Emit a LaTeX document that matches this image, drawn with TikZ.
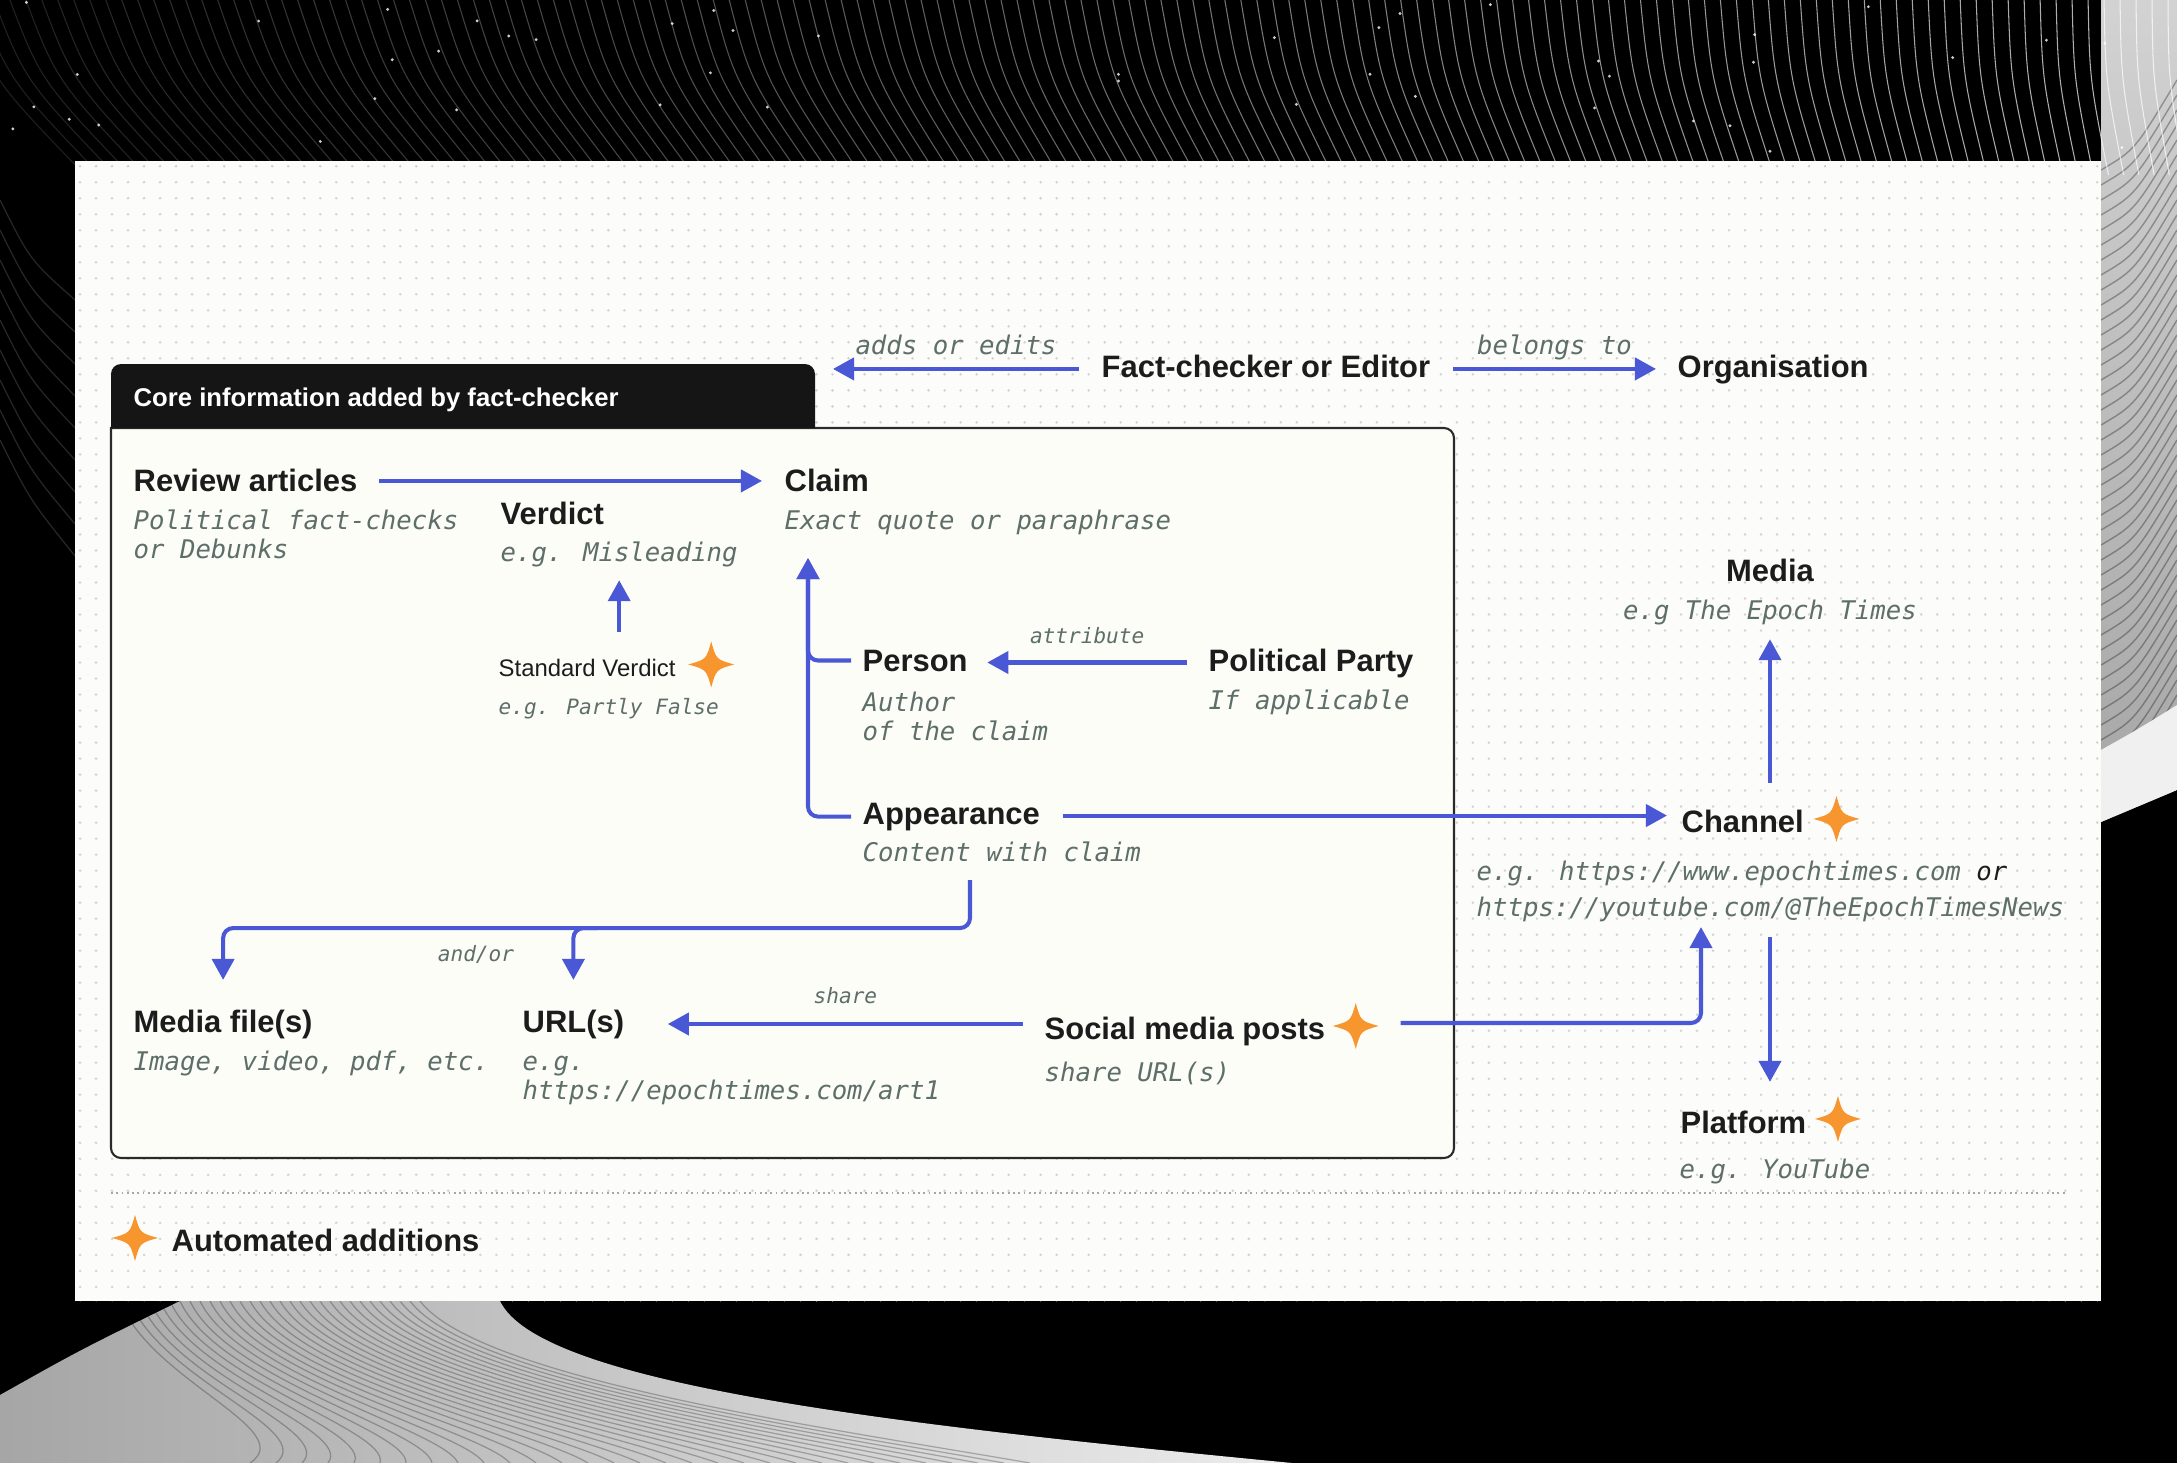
\documentclass[tikz,border=0pt]{standalone}
\usepackage{fontspec}
\setmainfont{Liberation Sans}
\newfontfamily\codefont{DejaVu Sans Mono}[ItalicFont={DejaVu Sans Mono Oblique}]
\usetikzlibrary{arrows.meta,positioning,calc,patterns.meta}
\definecolor{ink}{HTML}{1C1C1C}
\definecolor{mono}{HTML}{5E6E69}
\definecolor{linkblue}{HTML}{4B58D6}
\definecolor{sparkorange}{HTML}{F7952F}
\definecolor{cardfill}{HTML}{FCFCFA}
\definecolor{boxfill}{HTML}{FDFDF8}
\definecolor{boxline}{HTML}{2A2A2A}
\definecolor{headfill}{HTML}{151515}
\definecolor{dotgrey}{HTML}{D2D3D0}
\tikzset{
  head/.style={font=\bfseries\fontsize{8.8pt}{10.5pt}\selectfont, text=ink,
    inner sep=0pt, anchor=base west},
  smallhead/.style={head, font=\fontsize{6.8pt}{8pt}\selectfont},
  desc/.style={font=\codefont\itshape\fontsize{7.3pt}{8.2pt}\selectfont, text=mono,
    inner sep=0pt, anchor=base west, align=left},
  smalldesc/.style={desc, font=\codefont\itshape\fontsize{6pt}{7pt}\selectfont},
  lbl/.style={font=\codefont\itshape\fontsize{6pt}{7pt}\selectfont, text=mono,
    inner sep=0pt, text depth=0pt},
  biglbl/.style={lbl, font=\codefont\itshape\fontsize{7.3pt}{8.2pt}\selectfont},
  link/.style={draw=linkblue, line width=1.15pt, rounded corners=0.1cm,
    -{Triangle[length=0.21cm,width=0.22cm]}},
  corebox/.style={fill=boxfill, draw=boxline, line width=0.6pt},
  spark/.pic={\fill[sparkorange] (0,-23) .. controls (5,-5) .. (23,0)
    .. controls (5,5) .. (0,23) .. controls (-5,5) .. (-23,0)
    .. controls (-5,-5) .. cycle;},
}
% multi-line descriptions are anchored on their last line

\begin{document}
\begin{tikzpicture}[x=0.01cm, y=-0.01cm]
\useasboundingbox (0,0) rectangle (2177,1463);

% ===== backdrop =====
\fill[black] (0,0) rectangle (2177,1463);
\shade[top color=gray!35, bottom color=gray!70]
  (2101,0) -- (2177,0) -- (2177,790) -- (2101,822) -- cycle;
\begin{scope}
  \clip (2101,0) -- (2177,0) -- (2177,790) -- (2101,822) -- cycle;
  \foreach \k in {0,...,44}
    { \draw[black, opacity=0.3, line width=0.4pt]
        (2101,170+\k*15) .. controls (2135,150+\k*15) .. (2177,80+\k*15); }
  \fill[gray!12] (2101,750) .. controls (2140,728) .. (2177,705) -- (2177,790) -- (2101,822) -- cycle;
\end{scope}
\foreach \i in {0,...,140} {
  \pgfmathsetmacro{\sx}{\i*16-40}
  \pgfmathsetmacro{\op}{0.12+0.6*\i/140}
  \pgfmathsetmacro{\lean}{110*(1-\i/140)}
  \draw[white, opacity=\op, line width=0.3pt]
    (\sx,-5) .. controls (\sx+0.3*\lean,80) .. (\sx+\lean+15,175);
}
\pgfmathsetseed{11}
\foreach \k in {1,...,45}
  { \fill[white, opacity=0.8] ({rnd*2177},{rnd*155}) circle (1.6); }
\foreach \k in {0,...,8}
  { \draw[white, opacity=0.15, line width=0.35pt] (0,200+\k*30) .. controls (30,260+\k*30) .. (75,300+\k*32); }
\shade[left color=gray!70, right color=gray!15]
  (180,1301) -- (500,1301) .. controls (540,1385) and (900,1425) .. (1292,1463)
  -- (0,1463) -- (0,1395) .. controls (80,1350) .. (180,1301) -- cycle;
\begin{scope}
  \clip (180,1301) -- (500,1301) .. controls (540,1385) and (900,1425) .. (1292,1463)
    -- (0,1463) -- (0,1395) .. controls (80,1350) .. (180,1301) -- cycle;
  \foreach \k in {0,...,30}
    { \draw[black, opacity=0.25, line width=0.35pt]
        (120+\k*10,1301) .. controls (150+\k*11,1380) and (300+\k*18,1430) .. (250+\k*26,1463); }
\end{scope}

% ===== card =====
\fill[cardfill] (75,161) rectangle (2101,1301);
\fill[pattern={Dots[distance=0.16cm, radius=0.4pt]}, pattern color=dotgrey]
  (75,161) rectangle (2101,1301);

% ===== core box =====
\filldraw[corebox] (111,428) [rounded corners=0.1cm] -- (1454,428) -- (1454,1158)
  -- (111,1158) [sharp corners] -- cycle;
\fill[headfill] (111,428) [rounded corners=0.1cm] -- (111,364) -- (815,364)
  [sharp corners] -- (815,428) -- cycle;
\node[head, text=white, font=\bfseries\fontsize{7.3pt}{9pt}\selectfont] (core) at (133,406)
  {Core information added by fact-checker};

% ===== nodes =====
\node[head] (editor) at (1101,377) {Fact-checker or Editor};
\node[head] (org) at (1677,377) {Organisation};

\node[head] (review) at (133,491) {Review articles};
\node[desc] (reviewdesc) at (133,558) {Political fact-checks\\or Debunks};
\node[head] (claim) at (784,491) {Claim};
\node[desc] (claimdesc) at (784,529) {Exact quote or paraphrase};
\node[head] (verdict) at (500,524) {Verdict};
\node[desc] (verdictdesc) at (500,561) {e.g. Misleading};
\node[smallhead] (stdverdict) at (498,676) {Standard Verdict};
\node[smalldesc] (stdverdictdesc) at (498,714) {e.g. Partly False};

\node[head] (person) at (862,671) {Person};
\node[desc] (persondesc) at (862,740) {Author\\of the claim};
\node[head] (party) at (1208,671) {Political Party};
\node[desc] (partydesc) at (1208,709) {If applicable};
\node[head] (appear) at (862,824) {Appearance};
\node[desc] (appeardesc) at (862,861) {Content with claim};

\node[head] (channel) at (1681,832) {Channel};
\node[desc] (channeldesc) at (1476,916)
  {e.g. https://www.epochtimes.com {\color{ink}or}\\[2pt]https://youtube.com/@TheEpochTimesNews};
\node[head, anchor=base] (media) at (1770,581) {Media};
\node[desc, anchor=base] (mediadesc) at (1770,619) {e.g The Epoch Times};
\node[head] (platform) at (1680,1133) {Platform};
\node[desc] (platformdesc) at (1679,1178) {e.g. YouTube};

\node[head] (social) at (1044,1039) {Social media posts};
\node[desc] (socialdesc) at (1044,1081) {share URL(s)};
\node[head] (url) at (522,1032) {URL(s)};
\node[desc] (urldesc) at (522,1099) {e.g.\\https://epochtimes.com/art1};
\node[head] (files) at (133,1032) {Media file(s)};
\node[desc] (filesdesc) at (133,1070) {Image, video, pdf, etc.};

\node[head] (legend) at (171,1251) {Automated additions};

% ===== automated markers =====
\pic at ($(stdverdict.east)+(35,-3)$) {spark};
\pic at ($(channel.east)+(32,-2)$) {spark};
\coordinate (socialspark) at ($(social.east)+(30,-5)$);
\pic at (socialspark) {spark};
\pic at ($(platform.east)+(31,-3)$) {spark};
\pic at ($(legend.west)+(-36,-2)$) {spark};

% ===== links =====
\draw[link] ($(editor.west)+(-22,3)$) -- ($(editor.west)+(-268,3)$)
  node[biglbl, midway, above=0.12cm] {adds or edits};
\draw[link] ($(editor.east)+(22,3)$) -- ($(org.west |- editor.east)+(-21,3)$)
  node[biglbl, midway, above=0.12cm] {belongs to};
\draw[link] ($(review.east)+(21,1)$) -- ($(claim.west |- review.east)+(-22,1)$);
\draw[link] ($(verdictdesc.south |- stdverdict.north)+(0,-26)$) -- ($(verdictdesc.south)+(0,13)$);
\draw[link] ($(person.west)+(-11,0)$) -| ($(claimdesc.south west)+(24,23)$);
\draw[link] ($(appear.west)+(-11,0)$) -| ($(claimdesc.south west)+(24,23)$);
\draw[link] ($(party.west |- person.east)+(-21,2)$) -- ($(person.east)+(19,2)$)
  node[lbl, midway, above=0.17cm] {attribute};
\draw[link] ($(appear.east)+(22,-1)$) -- ($(channel.west |- appear.east)+(-14,-1)$);
\draw[link] ($(mediadesc.south |- channel.north)+(0,-26)$) -- ($(mediadesc.south)+(0,14)$);
\draw[link] ($(mediadesc.south |- channeldesc.south)+(0,15)$) -- ($(mediadesc.south |- platform.north)+(0,-28)$);
\draw[link] ($(socialspark)+(45,-3)$) -| ($(channeldesc.south west)+(225,5)$);
\draw[link] ($(social.west |- url.east)+(-21,0)$) -- ($(url.east)+(43,0)$)
  node[lbl, midway, above=0.18cm] {share};
\coordinate (fork) at ($(appeardesc.south west)+(108,66)$);
\draw[link] ($(appeardesc.south west)+(108,18)$) -- (fork) -| ($(files.north)+(0,-29)$);
\draw[link] ($(fork -| url.north)+(24,0)$) -| ($(url.north)+(0,-29)$);
\node[lbl, anchor=base] (andor) at (476,961) {and/or};

% ===== legend rule =====
\draw[gray!70, line width=0.5pt, densely dotted] (111,1193) -- (2065,1193);

\end{tikzpicture}
\end{document}
